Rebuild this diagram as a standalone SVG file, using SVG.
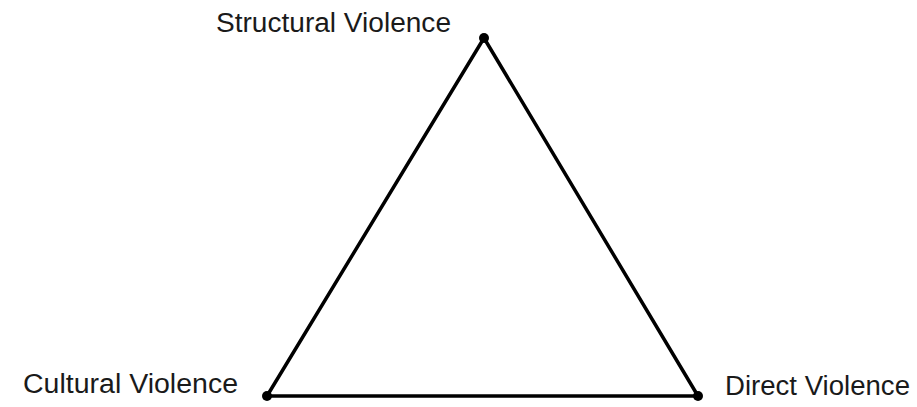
<svg xmlns="http://www.w3.org/2000/svg" width="917" height="407" viewBox="0 0 917 407">
<style>
.edge{stroke:#000;stroke-width:3.5;fill:none;stroke-linecap:round}
.dot{fill:#000}
.lbl{font-family:"Liberation Sans",Arial,sans-serif;font-size:27px;fill:#1a1a1a}
</style>
<rect width="917" height="407" fill="#fff"/>
<g id="connectors">
<line class="edge" x1="484" y1="38" x2="267" y2="396"/>
<line class="edge" x1="484" y1="38" x2="698" y2="396"/>
<line class="edge" x1="267" y1="396" x2="698" y2="396"/>
</g>
<g id="structural">
<circle class="dot" cx="484" cy="38" r="5"/>
<text class="lbl" x="216" y="32" textLength="235" lengthAdjust="spacingAndGlyphs">Structural Violence</text>
</g>
<g id="cultural">
<circle class="dot" cx="267" cy="396" r="5"/>
<text class="lbl" x="23" y="393" textLength="215" lengthAdjust="spacingAndGlyphs">Cultural Violence</text>
</g>
<g id="direct">
<circle class="dot" cx="698" cy="396" r="5"/>
<text class="lbl" x="725" y="395" textLength="185" lengthAdjust="spacingAndGlyphs">Direct Violence</text>
</g>
</svg>
